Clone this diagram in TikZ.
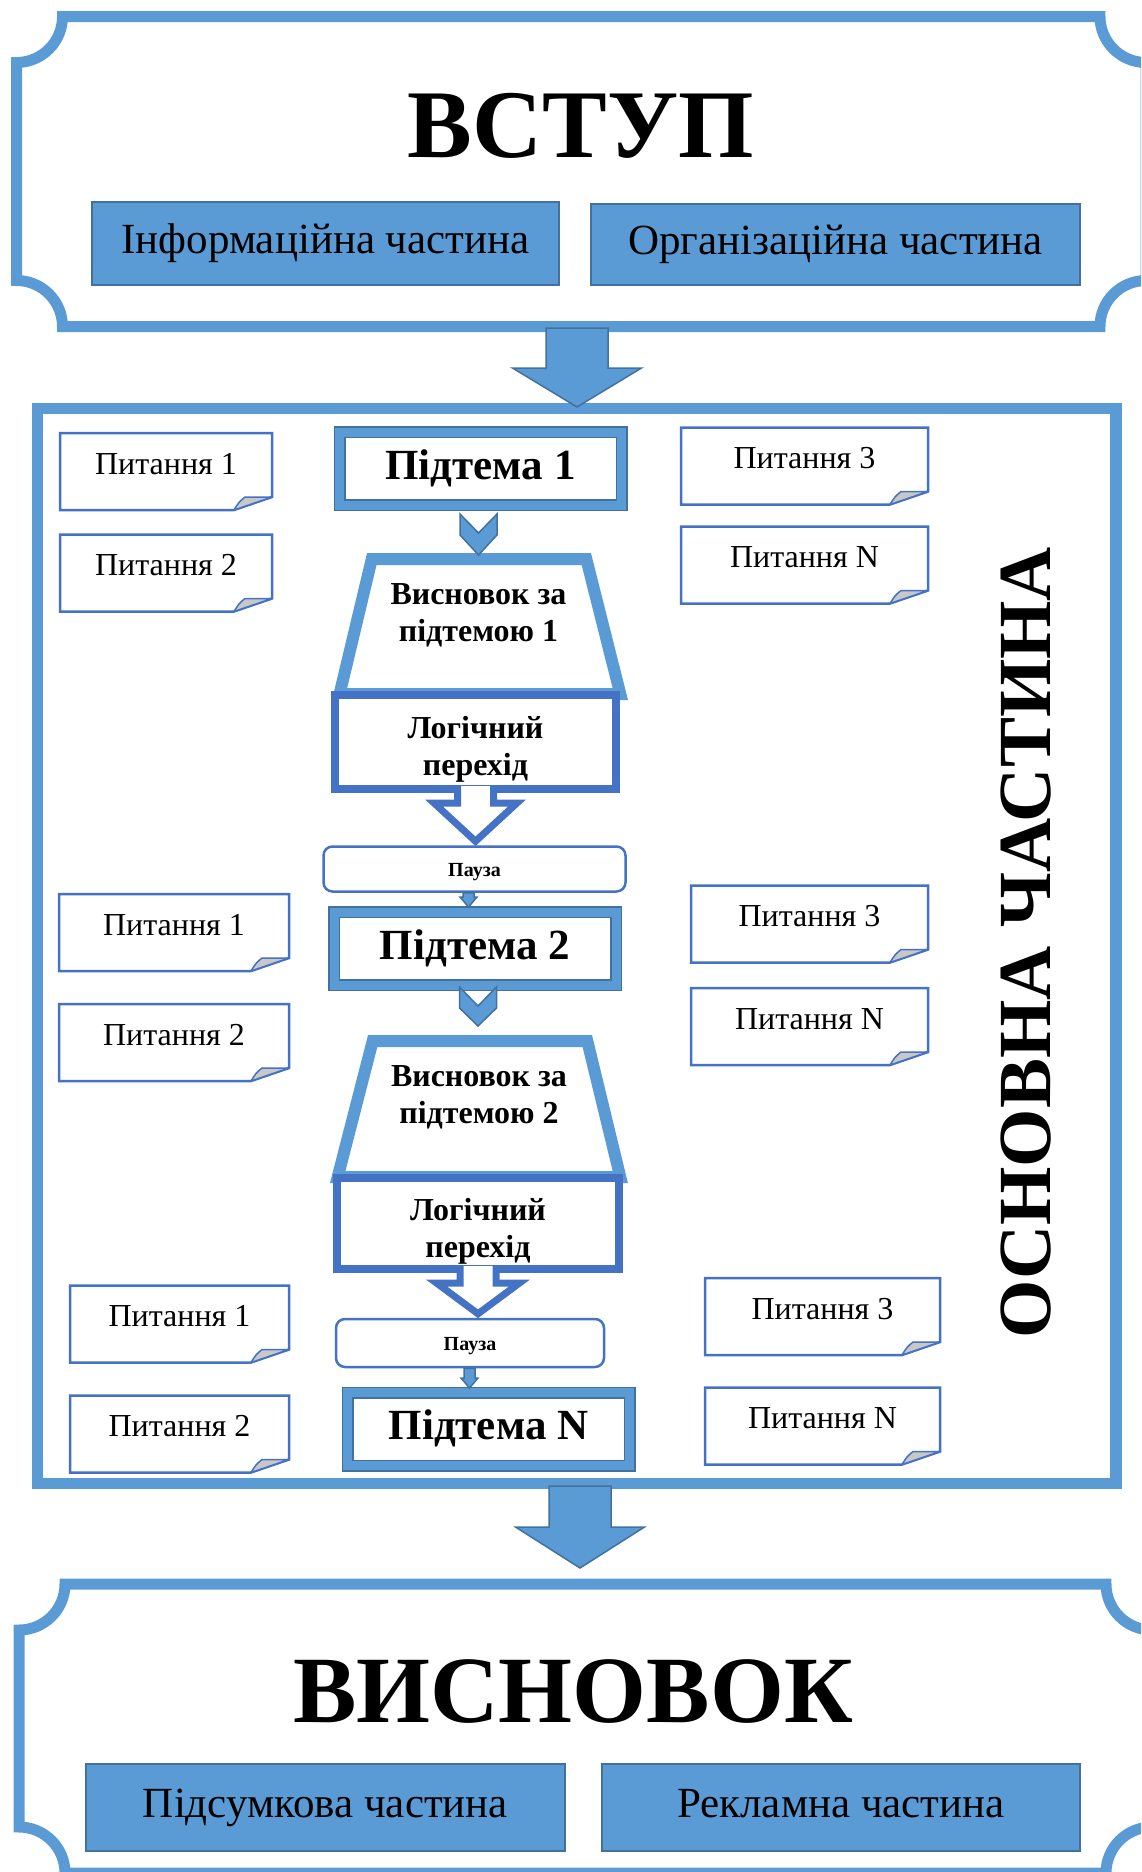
\documentclass[tikz,border=0pt]{standalone}
\usepackage{fontspec}
\setmainfont{Liberation Serif}
\usetikzlibrary{calc}

\definecolor{accent}{RGB}{91,155,213}
\definecolor{accentdark}{RGB}{65,113,156}
\definecolor{midblue}{RGB}{68,114,196}
\definecolor{foldgray}{RGB}{200,200,200}

\tikzset{
  plaqueline/.style={draw=accent, line width=11pt},
  mainframe/.style={draw=accent, line width=11.5pt},
  titletext/.style={anchor=base, inner sep=0pt, font=\bfseries\fontsize{97}{100}\selectfont},
  sidetext/.style={rotate=90, anchor=base, inner sep=0pt, font=\bfseries\fontsize{75}{80}\selectfont},
  partbox/.style={rectangle, draw=accentdark, fill=accent, line width=1.5pt, inner sep=0pt,
    text height=30pt, text depth=10pt, font=\fontsize{43}{50}\selectfont},
  note/.style={rectangle, inner sep=0pt, outer sep=0pt, minimum height=77pt,
    text height=22pt, text depth=17pt, font=\fontsize{32}{37}\selectfont},
  noteline/.style={draw=midblue, line width=2.5pt, line join=miter},
  foldline/.style={draw=midblue, fill=foldgray, line width=1.5pt, line join=round},
  topicbox/.style={rectangle, draw=accentdark, double=accent, double distance=9pt, line width=1.5pt,
    fill=white, minimum width=282pt, minimum height=73pt, inner sep=0pt,
    text height=29pt, text depth=8pt, font=\bfseries\fontsize{43}{48}\selectfont},
  trapline/.style={draw=accent, fill=white, line width=12pt, line join=miter},
  logicbox/.style={rectangle, draw=midblue, line width=8pt, fill=white, minimum width=281pt,
    minimum height=94pt, inner sep=0pt, align=center, font=\bfseries\fontsize{32}{37}\selectfont},
  sumtext/.style={inner sep=0pt, align=center, font=\bfseries\fontsize{32}{37}\selectfont},
  pausebox/.style={rectangle, rounded corners=9pt, draw=midblue, line width=2.5pt, fill=white,
    inner sep=0pt, text height=14pt, text depth=0pt, font=\bfseries\fontsize{20}{24}\selectfont},
  arrowfill/.style={draw=accentdark, fill=accent, line width=1.5pt, line join=miter},
  hollowline/.style={draw=midblue, fill=white, line width=7pt, line join=miter}
}

\newcommand{\topstrut}{\rule{0pt}{37pt}}

% frame with cut-in corners, centre line x1,y1 to x2,y2
\newcommand{\plaque}[4]{%
  \draw[plaqueline] ({#1+46},#2) -- ({#3-46},#2) arc[start angle=180,end angle=90,radius=46]
    -- (#3,{#4-46}) arc[start angle=270,end angle=180,radius=46]
    -- ({#1+46},#4) arc[start angle=0,end angle=-90,radius=46]
    -- (#1,{#2+46}) arc[start angle=90,end angle=0,radius=46] -- cycle;}

% filled block arrow: from, tip, shaft half width, head half width, head length
\newcommand{\blockdown}[5]{%
  \draw[arrowfill] ($(#1 -| #2)+(-#3,0)$) -- ($(#2)+(-#3,-#5)$) -- ($(#2)+(-#4,-#5)$) -- (#2)
    -- ($(#2)+(#4,-#5)$) -- ($(#2)+(#3,-#5)$) -- ($(#1 -| #2)+(#3,0)$) -- cycle;}

% chevron: top centre, height
\newcommand{\chevrondown}[2]{%
  \draw[arrowfill] ($(#1)+(-18.5,0)$) -- ($(#1)+(0,19)$) -- ($(#1)+(18.5,0)$) -- ($(#1)+(18.5,21)$)
    -- ($(#1)+(0,#2)$) -- ($(#1)+(-18.5,21)$) -- cycle;}

% outlined arrow out of a box into the pause
\newcommand{\hollowdown}[2]{%
  \filldraw[hollowline] ($(#1.south)+(-18,-7)$) -- ($(#1.south)+(-18,10)$) -- ($(#1.south)+(-41.5,10)$)
    -- ($(#1.south |- #2.north)+(0,-4)$) -- ($(#1.south)+(41.5,10)$) -- ($(#1.south)+(18,10)$)
    -- ($(#1.south)+(18,-7)$);}

\begin{document}
\begin{tikzpicture}[x=1pt, y=-1pt]
\useasboundingbox (0,0) rectangle (1141,1872);
\clip (0,0) rectangle (1141,1872);

% frames
\plaque{16.5}{16.5}{1146}{326.5}
\plaque{19}{1584}{1152}{1873}
\draw[mainframe] (37.5,408.5) rectangle (1116,1483.5);

% introduction
\node[titletext] (intro) at (581,157) {ВСТУП};
\node[partbox, minimum width=467pt, minimum height=83pt] (info) at (325.5,243.5) {Інформаційна частина};
\node[partbox, minimum width=489pt, minimum height=81pt] (org) at (835.5,244.5) {Організаційна частина};

% conclusion
\node[titletext, font=\bfseries\fontsize{95}{100}\selectfont] (concl) at (573,1722) {ВИСНОВОК};
\node[partbox, minimum width=479pt, minimum height=87pt] (summ) at (325.5,1807.5) {Підсумкова частина};
\node[partbox, minimum width=478pt, minimum height=87pt] (adv) at (841,1807.5) {Рекламна частина};

% questions
\foreach \nm/\cx/\cy/\bw/\txt in {
  q11/166/471.5/212/{Питання 1}, q12/166/573/212/{Питання 2},
  q13/804.5/466/247/{Питання 3}, q14/804.5/565/247/{Питання N},
  q21/174/932.5/230/{Питання 1}, q22/174/1042.5/230/{Питання 2},
  q23/809.5/924/237/{Питання 3}, q24/809.5/1026.5/237/{Питання N},
  q31/179.5/1324/219/{Питання 1}, q32/179.5/1434/219/{Питання 2},
  q33/822.5/1316.5/235/{Питання 3}, q34/822.5/1426/235/{Питання N}}
{
  \node[note, minimum width=\bw] (\nm) at (\cx,\cy) {\txt};
  \draw[noteline] (\nm.north west) -- (\nm.north east) -- ($(\nm.south east)+(0,-13)$)
    -- ($(\nm.south east)+(-38,0)$) -- (\nm.south west) -- cycle;
  \filldraw[foldline] ($(\nm.south east)+(-38,0)$) .. controls ($(\nm.south east)+(-33,-8)$) ..
    ($(\nm.south east)+(-27,-13)$) -- ($(\nm.south east)+(0,-13)$) -- cycle;
}

% subtopic 1
\node[topicbox] (sub1) at (480.5,468.5) {Підтема 1};
\draw[trapline] (371.8,559) -- (586.3,559) -- (620.3,694) -- (339.6,694) -- cycle;
\node[sumtext] (con1) at (478.5,607.5) {\topstrut Висновок за\\підтемою 1};
\node[logicbox] (log1) at (475.5,742) {\topstrut Логічний\\перехід};
\node[pausebox, minimum width=302pt, minimum height=45pt] (pause1) at (474.5,869) {Пауза};

% subtopic 2
\node[topicbox] (sub2) at (475,948.75) {Підтема 2};
\draw[trapline] (372.7,1041) -- (587.3,1041) -- (620.3,1177) -- (337.7,1177) -- cycle;
\node[sumtext] (con2) at (479,1089.5) {\topstrut Висновок за\\підтемою 2};
\node[logicbox, minimum width=282pt, minimum height=91pt] (log2) at (478,1223.5) {\topstrut Логічний\\перехід};
\node[pausebox, minimum width=268pt, minimum height=48pt] (pause2) at (470,1343) {Пауза};

% subtopic N
\node[topicbox] (subN) at (488.5,1429) {Підтема N};

% arrows
\hollowdown{log1}{pause1}
\hollowdown{log2}{pause2}
\chevrondown{478.5,514}{41}
\chevrondown{478,987}{39}
\coordinate (tip1) at (468.5,907);
\blockdown{pause1.south}{tip1}{5.5}{8.5}{10}
\coordinate (tip2) at (469.5,1388);
\blockdown{pause2.south}{tip2}{5.5}{8.5}{10}
\coordinate (in1) at (577,328);
\coordinate (in2) at (577,407);
\blockdown{in1}{in2}{31}{64.5}{39}
\coordinate (out1) at (580,1486);
\coordinate (out2) at (580,1568);
\blockdown{out1}{out2}{31}{64.5}{41}

\node[sidetext] (mainpart) at (1050,943) {ОСНОВНА ЧАСТИНА};
\end{tikzpicture}
\end{document}
